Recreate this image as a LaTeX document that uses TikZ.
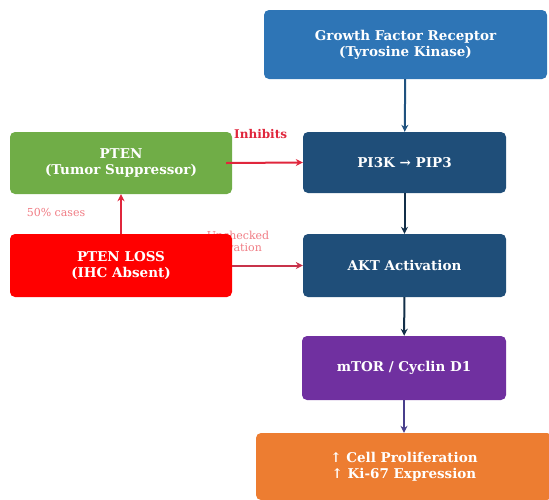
\documentclass[tikz,border=0pt]{standalone}
\usepackage{fontspec}
\setmainfont{DejaVu Serif}
\usetikzlibrary{arrows.meta}
\definecolor{gfrblue}{HTML}{2E75B6}
\definecolor{darkblue}{HTML}{1F4E79}
\definecolor{mtorpurple}{HTML}{7030A0}
\definecolor{prolorange}{HTML}{ED7D31}
\definecolor{ptengreen}{HTML}{70AD47}
\definecolor{lossred}{HTML}{FF0000}
\definecolor{inhred}{HTML}{E0263C}
\definecolor{lossarrow}{HTML}{C8324A}
\definecolor{notered}{HTML}{F07C84}

\begin{document}
\begin{tikzpicture}[
    x=1pt, y=-1pt,
    pathbox/.style={rectangle, rounded corners=5pt, text=white, align=center,
        font=\bfseries\fontsize{13.5}{16}\selectfont, inner sep=0pt},
    flow/.style={-{Stealth[length=7pt,width=7pt]}, line width=2pt},
    note/.style={font=\fontsize{11}{12}\selectfont, text=notered}
]
\useasboundingbox (0,0) rectangle (549,499);

% Labels behind boxes
\node[note, align=left] (unchk) at (238,241) {Unchecked\\activation};

% Nodes
\node[pathbox, fill=gfrblue, minimum width=283pt, minimum height=69pt] (GFR) at (405.5,44.5)
    {Growth Factor Receptor\\(Tyrosine Kinase)};
\node[pathbox, fill=darkblue, minimum width=203pt, minimum height=61pt] (PI3K) at (404.5,162.5)
    {PI3K → PIP3};
\node[pathbox, fill=darkblue, minimum width=203pt, minimum height=63pt] (AKT) at (404.5,265.5)
    {AKT Activation};
\node[pathbox, fill=mtorpurple, minimum width=204pt, minimum height=64pt] (MTOR) at (404,368)
    {mTOR / Cyclin D1};
\node[pathbox, fill=prolorange, minimum width=296pt, minimum height=67pt] (PROL) at (404,466.5)
    {↑ Cell Proliferation\\↑ Ki-67 Expression};
\node[pathbox, fill=ptengreen, minimum width=222pt, minimum height=62pt] (PTEN) at (121,163)
    {PTEN\\(Tumor Suppressor)};
\node[pathbox, fill=lossred, minimum width=222pt, minimum height=63pt] (LOSS) at (121,265.5)
    {PTEN LOSS\\(IHC Absent)};

% Edges
\draw[flow, color=gfrblue!70!black] (GFR) -- (PI3K);
\draw[flow, color=darkblue!60!black] (PI3K) -- (AKT);
\draw[flow, color=darkblue!60!black] (AKT) -- (MTOR);
\draw[flow, color=mtorpurple!50!darkblue] (MTOR) -- (PROL);
\draw[flow, color=inhred] (PTEN.east) ++(-6,0) -- (PI3K.west)
    node[pos=0.45, above=20pt, font=\bfseries\fontsize{12}{13}\selectfont, text=inhred] (inh) {Inhibits};
\draw[flow, color=lossarrow] (LOSS) -- (AKT);
\draw[flow, color=inhred] (LOSS) -- (PTEN);
\node[note] (cases) at (56,212) {50\% cases};

\end{tikzpicture}
\end{document}
